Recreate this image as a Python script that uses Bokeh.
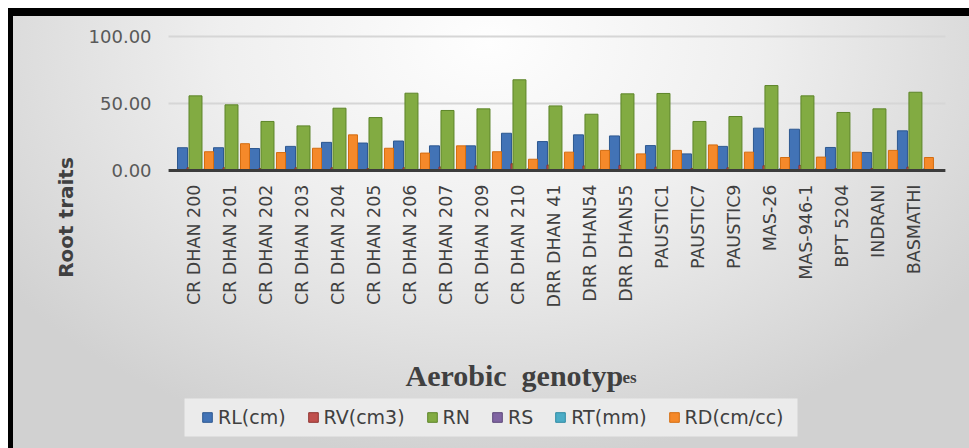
from bokeh.plotting import figure
from bokeh.models import Range1d, Legend, LegendItem, Label, BoxAnnotation
from bokeh.transform import dodge
from bokeh.core.properties import value
from bokeh.embed import file_html
from bokeh.resources import INLINE

genotypes = ["CR DHAN 200", "CR DHAN 201", "CR DHAN 202", "CR DHAN 203", "CR DHAN 204",
             "CR DHAN 205", "CR DHAN 206", "CR DHAN 207", "CR DHAN 209", "CR DHAN 210",
             "DRR DHAN 41", "DRR DHAN54", "DRR DHAN55", "PAUSTIC1", "PAUSTIC7", "PAUSTIC9",
             "MAS-26", "MAS-946-1", "BPT 5204", "INDRANI", "BASMATHI"]
RL = [17.0, 17.0, 16.4, 18.0, 21.0, 20.5, 22.0, 18.4, 18.4, 27.8, 21.6, 26.6, 25.8, 18.6,
      12.4, 18.0, 31.6, 30.8, 17.2, 13.4, 29.6]
RV = [2.0, 2.0, 1.5, 2.0, 2.0, 1.5, 2.0, 2.6, 3.4, 5.0, 4.0, 3.4, 3.8, 2.5, 1.5, 2.0, 3.5,
      3.8, 1.5, 1.5, 2.5]
RN = [55.7, 49.0, 36.6, 33.3, 46.5, 39.5, 57.7, 44.8, 46.0, 67.7, 48.2, 42.0, 57.2, 57.5,
      36.6, 40.3, 63.4, 55.7, 43.3, 46.0, 58.4]
RS = [0.6, 0.5, 0.6, 0.5, 0.6, 0.5, 0.6, 0.5, 0.6, 0.7, 0.6, 0.6, 0.5, 0.6, 0.5, 0.6, 0.7,
      0.6, 0.5, 0.6, 0.6]
RT = [1.2, 1.1, 1.3, 1.2, 1.0, 1.4, 1.2, 1.1, 1.3, 1.5, 1.4, 1.3, 1.2, 1.4, 1.3, 1.2, 1.5,
      1.6, 1.3, 1.2, 1.4]
RD = [14.0, 20.0, 13.4, 16.6, 26.6, 16.6, 13.0, 18.4, 14.0, 8.4, 13.7, 15.0, 12.4, 15.0,
      19.1, 13.7, 9.7, 10.0, 13.7, 15.0, 9.7]
series_names = ["RL(cm)", "RV(cm3)", "RN", "RS", "RT(mm)", "RD(cm/cc)"]
y_ticks = [0, 50, 100]
y_tick_labels = ["%.2f" % v for v in y_ticks]

xs = list(range(len(genotypes)))
data = dict(x=xs, RL=RL, RV=RV, RN=RN, RS=RS, RT=RT, RD=RD)

# plotting area spans the whole canvas; category axis runs from X_LO to X_HI
X_LO, X_HI = -0.72, 20.86
W, H = 961, 440
p = figure(width=W, height=H, x_range=Range1d(-5.167, 21.53), y_range=Range1d(-207.46, 120.90),
           output_backend="svg", toolbar_location=None,
           x_axis_type=None, y_axis_type=None, min_border=0)
p.styles = {"margin-left": "8px", "margin-top": "8px",
            "background": "radial-gradient(ellipse 62% 95% at 50% 8%, #fefefe 0%, #efefef 45%, #d1d1d1 100%)",
            "box-shadow": "inset 5px 8px 0 0 #000000"}
p.border_fill_color = None
p.background_fill_color = None
p.outline_line_color = None
p.grid.visible = False

# horizontal gridlines
grid_y = [v for v in y_ticks if v > 0]
p.segment(x0=[X_LO] * len(grid_y), x1=[X_HI] * len(grid_y), y0=grid_y, y1=grid_y,
          line_color="#d6d6d6", line_width=2)

styles = [
    ("RL", -0.333, 0.278, "#4273b6", "#2d5890"),
    ("RV", -0.167, 0.083, "#c0504d", "#8f3431"),
    ("RN", 0.028, 0.361, "#82ab42", "#5d8529"),
    ("RS", 0.236, 0.07, "#8064a2", "#5c4679"),
    ("RT", 0.292, 0.07, "#4bacc6", "#2f8aa3"),
    ("RD", 0.403, 0.25, "#f5892a", "#d46d10"),
]
renderers = []
for key, off, w, fc, lc in styles:
    r = p.vbar(x=dodge("x", off, range=p.x_range), top=key, width=w, bottom=0, source=data,
               fill_color=fc, line_color=lc, line_width=1)
    renderers.append(r)

# category axis line
p.segment(x0=[X_LO], x1=[X_HI], y0=[0], y1=[0], line_color="#3c3c3c", line_width=3)

# category labels
p.text(x=xs, y=[0] * len(xs), text=genotypes, angle=1.5707963, y_offset=14,
       text_align="right", text_baseline="middle",
       text_font=value("DejaVu Sans"), text_font_size=value("17.5px"), text_color="#404040")

# value labels
p.text(x=[X_LO] * len(y_ticks), y=y_ticks, text=y_tick_labels, x_offset=-17,
       text_align="right", text_baseline="middle",
       text_font=value("DejaVu Sans"), text_font_size=value("18px"), text_color="#595959")

ylab = Label(x=57, y=231, x_units="screen", y_units="screen", text="Root traits", angle=1.5707963,
             text_font="DejaVu Sans", text_font_size="20px", text_font_style="bold",
             text_color="#404040", text_align="center", text_baseline="middle")
p.add_layout(ylab)

t1 = Label(x=397, y=73, x_units="screen", y_units="screen", text="Aerobic\u2002genotyp",
           text_font="Liberation Serif", text_font_size="30px", text_font_style="bold",
           text_color="#404040", text_align="left", text_baseline="alphabetic")
t2 = Label(x=614, y=71, x_units="screen", y_units="screen", text="es",
           text_font="Liberation Serif", text_font_size="17px", text_font_style="bold",
           text_color="#404040", text_align="left", text_baseline="alphabetic")
p.add_layout(t1)
p.add_layout(t2)

# lighter panel behind the legend
legend_panel = BoxAnnotation(left=176, right=789, bottom=12, top=50,
                             left_units="screen", right_units="screen",
                             bottom_units="screen", top_units="screen",
                             fill_color="#ebebeb", fill_alpha=1.0, line_color=None)
p.add_layout(legend_panel)

legend = Legend(items=[LegendItem(label=n, renderers=[r]) for n, r in zip(series_names, renderers)],
                orientation="horizontal", location=(193, 20), margin=0,
                background_fill_alpha=0.0, border_line_color=None,
                padding=9, spacing=21, label_standoff=5,
                glyph_width=12, glyph_height=12, label_height=20,
                label_text_font="DejaVu Sans", label_text_font_size="19px",
                label_text_color="#404040")
p.add_layout(legend, "center")

open("out.html", "w").write(file_html(p, INLINE))
